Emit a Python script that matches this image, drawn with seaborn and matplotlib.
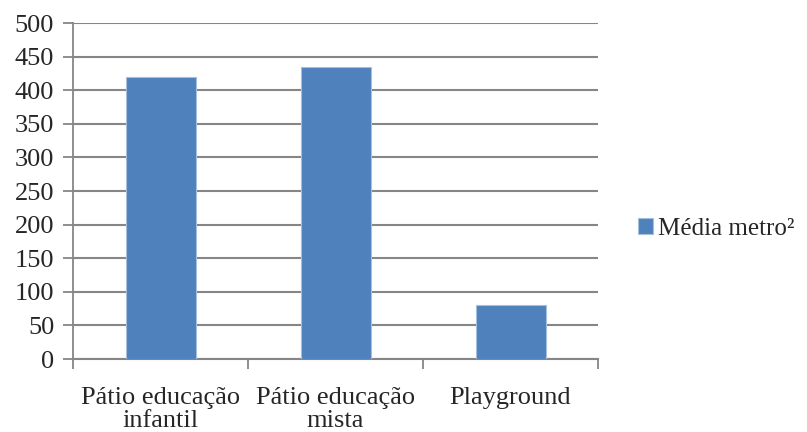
import matplotlib
matplotlib.use('Agg')
import matplotlib.pyplot as plt
import seaborn as sns

categorias = ['Pátio educação\ninfantil', 'Pátio educação\nmista', 'Playground']
media_metro2 = [420, 435, 80]
yticks = [0, 50, 100, 150, 200, 250, 300, 350, 400, 450, 500]

sns.set_style('white')
plt.rcParams['font.family'] = ['Liberation Serif', 'DejaVu Serif']

fig = plt.figure(figsize=(8.07, 4.32), dpi=100)
ax = fig.add_axes([73 / 807, 1 - 359 / 432, 525 / 807, 336 / 432])

sns.barplot(x=categorias, y=media_metro2, color='#4F81BD', width=0.4,
            edgecolor='#a5bfdf', linewidth=0.8, label='Média metro²',
            saturation=1, ax=ax, zorder=3)

ax.set_ylim(0, 500)
ax.set_xlim(-0.5, 2.5)
ax.set_yticks(yticks)
ax.set_yticklabels([str(v) for v in yticks], fontsize=19)
ax.tick_params(axis='y', length=7, width=1.3, color='#868686', pad=6.5, left=True)
ax.tick_params(axis='x', which='major', length=0, labelsize=19, pad=20)
ax.set_xticks([-0.5, 0.5, 1.5, 2.5], minor=True)
ax.tick_params(axis='x', which='minor', length=7, width=1.3, color='#868686', bottom=True)
for lab in ax.get_xticklabels():
    lab.set_linespacing(1.05)

ax.grid(axis='y', color='#868686', linewidth=1.5, zorder=0)
ax.set_axisbelow(True)
for s in ['top', 'right']:
    ax.spines[s].set_visible(False)
ax.spines['left'].set_color('#868686')
ax.spines['left'].set_linewidth(1.3)
ax.spines['bottom'].set_color('#868686')
ax.spines['bottom'].set_linewidth(1.5)

ax.legend(loc='center left', bbox_to_anchor=(638 / 807, 1 - 229 / 432),
          bbox_transform=fig.transFigure, frameon=False, borderpad=0,
          borderaxespad=0, fontsize=18, handlelength=0.6, handleheight=0.6,
          handletextpad=0.2)

fig.savefig('out.png', dpi=100)
